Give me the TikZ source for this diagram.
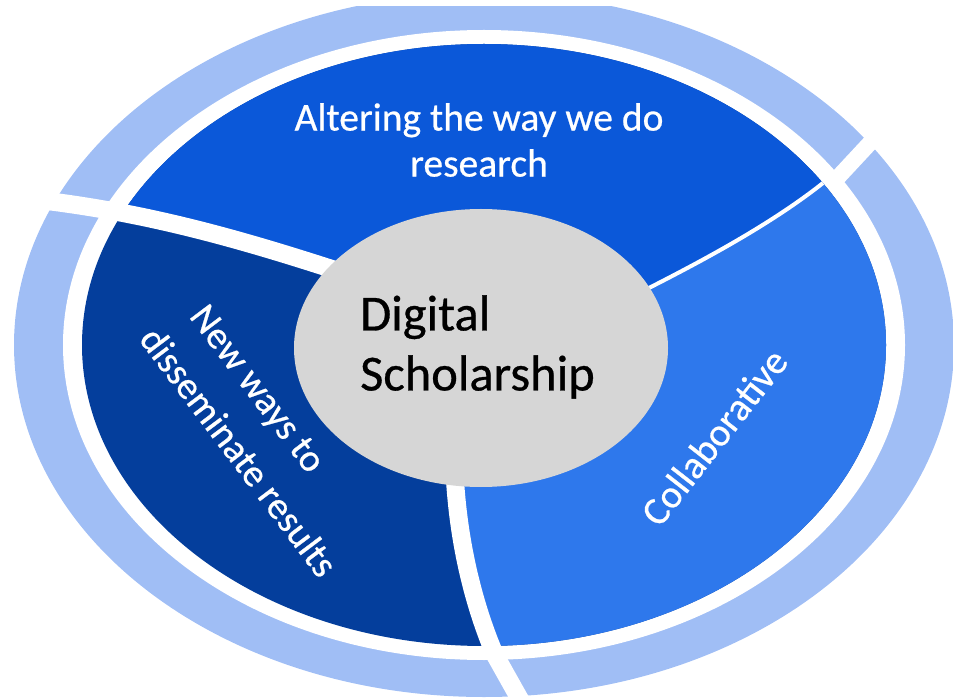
\documentclass[tikz,border=0pt]{standalone}
\usepackage{fontspec}
\setmainfont[FakeBold=0.6]{Carlito}
\definecolor{ringblue}{HTML}{A0BEF5}
\definecolor{topblue}{HTML}{0B58D9}
\definecolor{darkblue}{HTML}{043E9C}
\definecolor{rightblue}{HTML}{2E78EC}
\definecolor{centergray}{HTML}{D6D6D6}
\tikzset{
  divider/.style={draw=white, line width=18pt},
  thindivider/.style={draw=white, line width=4pt},
  seclabel/.style={text=white, inner sep=0pt, font=\fontsize{39.5}{46}\selectfont},
}
\begin{document}
\begin{tikzpicture}[x=1pt,y=-1pt]
\useasboundingbox (0,0) rectangle (953,700);
\begin{scope}
  \clip (0,7) rectangle (953,700);
  % outer ring
  \fill[ringblue] (484,345) ellipse [x radius=470, y radius=352];
  \fill[white] (484,345) ellipse [x radius=421, y radius=315];
  % sectors
  \begin{scope}
    \clip (484,345) ellipse [x radius=402, y radius=301];
    \fill[darkblue] (0,0) rectangle (953,700);
    \fill[topblue] (480,350) -- (335,270) .. controls (230,236) and (130,208) .. (10,197)
      -- (0,0) -- (953,0) -- (953,60) -- (900,110) -- (823,183)
      .. controls (770,225) and (700,262) .. (645,290) -- cycle;
    \fill[rightblue] (480,350) -- (645,290) .. controls (700,262) and (770,225) .. (823,183)
      -- (900,110) -- (953,110) -- (953,712) -- (527,712) -- (495,655)
      .. controls (480,620) and (460,560) .. (455,480) -- cycle;
  \end{scope}
  % dividers and ring gaps
  \path[divider] (335,270) .. controls (230,236) and (130,208) .. (10,197) -- (-10,195);
  \path[thindivider] (645,290) .. controls (700,262) and (770,225) .. (823,183);
  \coordinate (g2a) at (836,179.5);
  \coordinate (g2b) at (896,115);
  \path[draw=white, line width=16pt] (g2a) -- (g2b);
  \path[divider] (455,480) .. controls (460,560) and (480,620) .. (495,655) -- (527,712);
\end{scope}
% centre
\fill[centergray] (481,348) ellipse [x radius=187, y radius=139];
\node[anchor=west, align=left, inner sep=0pt, font=\fontsize{50.5}{60}\selectfont] (ds) at (360,347) {Digital\\Scholarship};
% sector labels
\node[seclabel, align=center] (alt) at (479,140) {Altering the way we do\\research};
\node[seclabel, rotate=52] (col) at (714,437) {Collaborative};
\node[seclabel, rotate=-53, align=left, font=\fontsize{38.5}{54}\selectfont] (nw) at (260,436) {\hspace*{12pt}New ways to\\disseminate results};
\end{tikzpicture}
\end{document}
